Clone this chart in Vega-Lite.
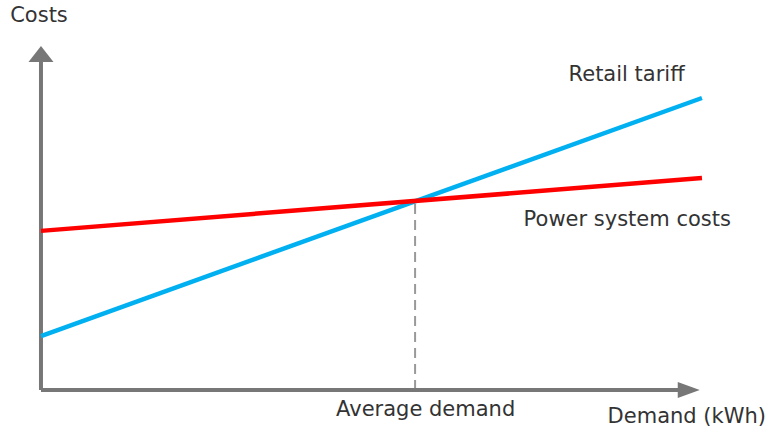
{
  "$schema": "https://vega.github.io/schema/vega-lite/v6.json",
  "width": 774,
  "height": 428,
  "autosize": {"type": "none"},
  "padding": 0,
  "background": "white",
  "config": {"view": {"stroke": null}},
  "datasets": {
    "lines": [
      {"series": "Retail tariff", "demand": 0, "cost": 18.5},
      {"series": "Retail tariff", "demand": 100, "cost": 100},
      {"series": "Power system costs", "demand": 0, "cost": 54.5},
      {"series": "Power system costs", "demand": 100, "cost": 72.6}
    ],
    "axes": [
      {"axis": "cost", "x": 0, "y": 0, "x2": 0, "y2": 112.5},
      {"axis": "demand", "x": 0, "y": 0, "x2": 96.6, "y2": 0}
    ],
    "average": [
      {"demand": 56.6, "y": 0, "y2": 64.7}
    ],
    "labels": [
      {"text": "Costs", "demand": -0.3, "cost": 126.0},
      {"text": "Retail tariff", "demand": 88.6, "cost": 105.8},
      {"text": "Power system costs", "demand": 88.7, "cost": 56.2},
      {"text": "Average demand", "demand": 58.2, "cost": -8.9},
      {"text": "Demand (kWh)", "demand": 97.7, "cost": -11.4}
    ]
  },
  "layer": [
    {
      "data": {"name": "average"},
      "mark": {"type": "rule", "color": "#999999", "strokeWidth": 2, "strokeDash": [10, 6]},
      "encoding": {
        "x": {"field": "demand", "type": "quantitative", "scale": {"domain": [-6.2, 110.9], "nice": false, "zero": false}, "axis": null},
        "y": {"field": "y", "type": "quantitative", "scale": {"domain": [-13.0, 133.56], "nice": false, "zero": false}, "axis": null},
        "y2": {"field": "y2"}
      }
    },
    {
      "data": {"name": "axes"},
      "mark": {"type": "rule", "color": "#777777", "strokeWidth": 4},
      "encoding": {
        "x": {"field": "x", "type": "quantitative"},
        "y": {"field": "y", "type": "quantitative"},
        "x2": {"field": "x2"},
        "y2": {"field": "y2"}
      }
    },
    {
      "data": {"values": [{"demand": 0, "cost": 115.1}]},
      "mark": {"type": "point", "filled": true, "opacity": 1, "color": "#777777", "size": 625, "shape": "M-1,0.64L0,-0.64L1,0.64Z"},
      "encoding": {
        "x": {"field": "demand", "type": "quantitative"},
        "y": {"field": "cost", "type": "quantitative"}
      }
    },
    {
      "data": {"values": [{"demand": 98.0, "cost": 0}]},
      "mark": {"type": "point", "filled": true, "opacity": 1, "color": "#777777", "size": 256, "shape": "M-1.375,-1L1.375,0L-1.375,1Z"},
      "encoding": {
        "x": {"field": "demand", "type": "quantitative"},
        "y": {"field": "cost", "type": "quantitative"}
      }
    },
    {
      "data": {"name": "lines"},
      "mark": {"type": "line", "strokeWidth": 4.5},
      "encoding": {
        "x": {"field": "demand", "type": "quantitative"},
        "y": {"field": "cost", "type": "quantitative"},
        "detail": {"field": "series"},
        "color": {"field": "series", "type": "nominal", "scale": {"domain": ["Retail tariff", "Power system costs"], "range": ["#00B0F0", "#FF0000"]}, "legend": null}
      }
    },
    {
      "data": {"name": "labels"},
      "mark": {"type": "text", "font": "DejaVu Sans", "fontSize": 21, "color": "#333333", "align": "center", "baseline": "alphabetic"},
      "encoding": {
        "x": {"field": "demand", "type": "quantitative"},
        "y": {"field": "cost", "type": "quantitative"},
        "text": {"field": "text"}
      }
    }
  ]
}
